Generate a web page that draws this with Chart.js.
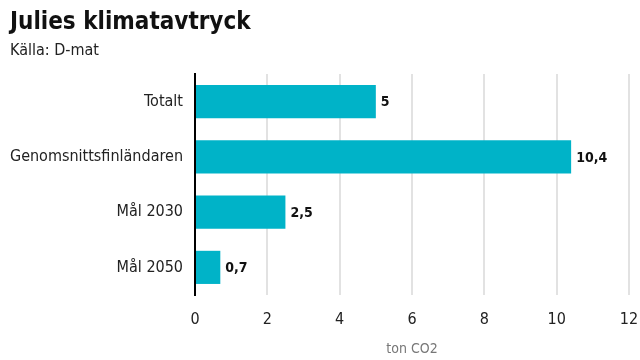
<!DOCTYPE html>
<html>
<head>
<meta charset="utf-8">
<script src="https://cdn.jsdelivr.net/npm/chart.js@4"></script>
<style>
  html, body { margin: 0; padding: 0; background: #fff; }
  #wrap { width: 640px; height: 360px; position: relative; }
</style>
</head>
<body>
<div id="wrap"><canvas id="footprintChart"></canvas></div>
<script>
const categories = ["Totalt", "Genomsnittsfinländaren", "Mål 2030", "Mål 2050"];
const tonValues = [5, 10.4, 2.5, 0.7];
const xTicks = [0, 2, 4, 6, 8, 10, 12];

const FONT = "'Liberation Sans Narrow', 'DejaVu Sans Condensed', sans-serif";

// writes the value next to the end of each bar
const valueLabels = {
  id: "valueLabels",
  afterDatasetsDraw(chart) {
    const ctx = chart.ctx;
    const meta = chart.getDatasetMeta(0);
    ctx.save();
    ctx.font = "bold 14px " + FONT;
    ctx.fillStyle = "#111";
    ctx.textAlign = "left";
    ctx.textBaseline = "middle";
    meta.data.forEach(function (bar, i) {
      const txt = String(tonValues[i]).replace(".", ",");
      ctx.fillText(txt, bar.x + 5, bar.y + 1);
    });
    ctx.restore();
  }
};

document.addEventListener("DOMContentLoaded", function () {
  const canvas = document.getElementById("footprintChart");
  new Chart(canvas, {
    type: "bar",
    data: {
      labels: categories,
      datasets: [{
        data: tonValues,
        backgroundColor: "#00b3c8",
        borderWidth: 0,
        barPercentage: 0.6,
        categoryPercentage: 1
      }]
    },
    plugins: [valueLabels],
    options: {
      indexAxis: "y",
      responsive: true,
      maintainAspectRatio: false,
      animation: false,
      layout: { padding: { left: 10, right: 11, top: 0, bottom: 6 } },
      plugins: {
        legend: { display: false },
        tooltip: { enabled: false },
        title: {
          display: true,
          text: "Julies klimatavtryck",
          align: "start",
          color: "#111",
          font: { family: FONT, size: 24, weight: "bold" },
          padding: { top: 8, bottom: 4 }
        },
        subtitle: {
          display: true,
          text: "Källa: D-mat",
          align: "start",
          color: "#222",
          font: { family: FONT, size: 16 },
          padding: { top: 0, bottom: 14 }
        }
      },
      scales: {
        x: {
          min: 0,
          max: 12,
          afterBuildTicks(scale) {
            scale.ticks = xTicks.map(v => ({ value: v }));
          },
          afterFit(scale) {
            scale.paddingLeft = 0;
            scale.paddingRight = 0;
          },
          grid: {
            color: ctx => ctx.tick && ctx.tick.value === 0 ? "rgba(0,0,0,0)" : "#e2e2e2",
            lineWidth: 2,
            drawTicks: false
          },
          border: { display: false },
          ticks: {
            color: "#222",
            padding: 15,
            font: { family: FONT, size: 16 }
          },
          title: {
            display: true,
            text: "ton CO2",
            color: "#777",
            font: { family: FONT, size: 14, lineHeight: 0.7 },
            padding: { top: 0, bottom: 0 }
          }
        },
        y: {
          afterFit(scale) { scale.width = 185; },
          grid: { display: false, drawTicks: false },
          border: { display: true, color: "#000", width: 2 },
          ticks: {
            color: "#222",
            padding: 12,
            font: { family: FONT, size: 16 }
          }
        }
      }
    }
  });
});
</script>
</body>
</html>
